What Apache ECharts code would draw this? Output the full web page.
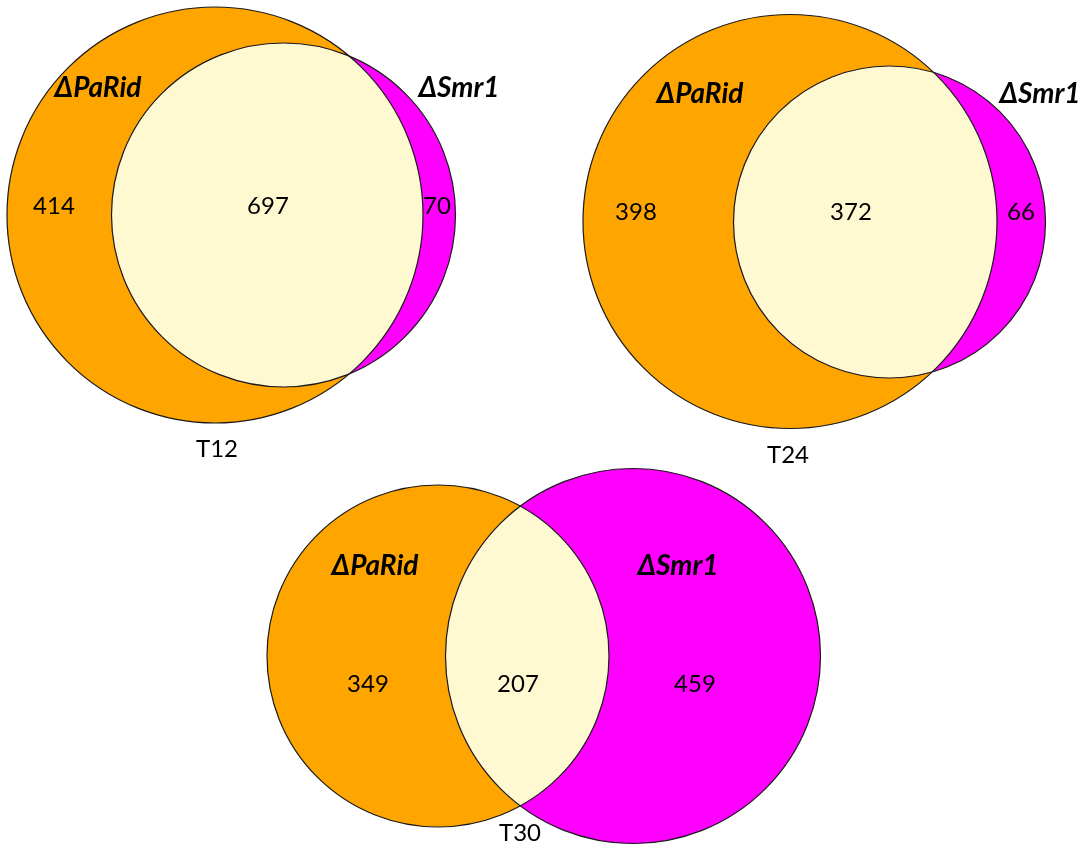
<!DOCTYPE html>
<html>
<head>
<meta charset="utf-8">
<title>Venn T12 / T24 / T30</title>
<script src="https://cdn.jsdelivr.net/npm/echarts@6/dist/echarts.min.js"></script>
<style>
html, body { margin: 0; padding: 0; background: #fff; }
#main { width: 1090px; height: 853px; }
</style>
</head>
<body>
<div id="main"></div>
<script>
// counts
const panels = ["T12", "T24", "T30"];
const setNames = ["ΔPaRid", "ΔSmr1"];
const onlyPaRid = [414, 398, 349];
const shared = [697, 372, 207];
const onlySmr1 = [70, 66, 459];

// layout (page pixels): circle [cx, cy, r] and text anchors per panel
const circlePaRid = [[215, 215, 208], [790, 221.5, 207], [438, 656, 171]];
const circleSmr1 = [[283.5, 215, 172], [889.5, 222, 156], [633, 656, 187.5]];
const namePaRidPos = [[98, 88], [700, 94], [375, 566]];
const nameSmr1Pos = [[459, 88], [1040, 94], [678, 566]];
const onlyPaRidPos = [[54, 206], [636, 212], [368, 684]];
const sharedPos = [[268, 206], [851, 212], [518, 684]];
const onlySmr1Pos = [[437, 206], [1021, 212], [695, 684]];
const panelPos = [[217, 449], [788, 455], [520, 833]];

const COLOR_A = "#FFA500";
const COLOR_B = "#FF00FF";
const COLOR_AB = "#FFF9D2";
const EDGE = "#1a1a1a";
const FONT = "Lato, 'Open Sans', sans-serif";

var myChart = echarts.init(document.getElementById("main"));

function txt(api, pos, text, bold) {
  var p = api.coord(pos);
  return {
    type: "text",
    style: {
      text: String(text),
      x: p[0],
      y: p[1],
      align: "center",
      verticalAlign: "middle",
      fill: "#000",
      fontFamily: FONT,
      fontSize: bold ? 28 : 24,
      fontWeight: bold ? "bold" : "normal",
      fontStyle: bold ? "italic" : "normal"
    }
  };
}

function renderVenn(params, api) {
  var i = params.dataIndex;
  var a = api.coord([api.value(0), api.value(1)]);
  var ra = api.size([api.value(2), 0])[0];
  var b = api.coord([api.value(3), api.value(4)]);
  var rb = api.size([api.value(5), 0])[0];

  // lens = intersection of the two circles
  var dx = b[0] - a[0], dy = b[1] - a[1];
  var d = Math.sqrt(dx * dx + dy * dy);
  var ux = dx / d, uy = dy / d;
  var da = (d * d + ra * ra - rb * rb) / (2 * d);
  var h = Math.sqrt(ra * ra - da * da);
  var mx = a[0] + ux * da, my = a[1] + uy * da;
  var p1 = [mx + uy * h, my - ux * h];
  var p2 = [mx - uy * h, my + ux * h];
  var largeA = da < 0 ? 1 : 0;
  var largeB = d - da < 0 ? 1 : 0;
  var lens =
    "M" + p1[0] + " " + p1[1] +
    " A" + ra + " " + ra + " 0 " + largeA + " 1 " + p2[0] + " " + p2[1] +
    " A" + rb + " " + rb + " 0 " + largeB + " 1 " + p1[0] + " " + p1[1] + " Z";

  return {
    type: "group",
    children: [
      { type: "circle", shape: { cx: a[0], cy: a[1], r: ra }, style: { fill: COLOR_A } },
      { type: "circle", shape: { cx: b[0], cy: b[1], r: rb }, style: { fill: COLOR_B } },
      { type: "path", shape: { pathData: lens }, style: { fill: COLOR_AB } },
      { type: "circle", shape: { cx: a[0], cy: a[1], r: ra }, style: { fill: "none", stroke: EDGE, lineWidth: 1.2 } },
      { type: "circle", shape: { cx: b[0], cy: b[1], r: rb }, style: { fill: "none", stroke: EDGE, lineWidth: 1.2 } },
      txt(api, namePaRidPos[i], setNames[0], true),
      txt(api, nameSmr1Pos[i], setNames[1], true),
      txt(api, onlyPaRidPos[i], onlyPaRid[i], false),
      txt(api, sharedPos[i], shared[i], false),
      txt(api, onlySmr1Pos[i], onlySmr1[i], false),
      txt(api, panelPos[i], panels[i], false)
    ]
  };
}

var seriesData = panels.map(function (p, i) {
  return circlePaRid[i].concat(circleSmr1[i]);
});

myChart.setOption({
  animation: false,
  grid: { left: 0, right: 0, top: 0, bottom: 0 },
  xAxis: { type: "value", min: 0, max: 1090, show: false },
  yAxis: { type: "value", min: 0, max: 853, inverse: true, show: false },
  series: [
    {
      type: "custom",
      clip: false,
      renderItem: renderVenn,
      data: seriesData
    }
  ]
});
</script>
</body>
</html>
